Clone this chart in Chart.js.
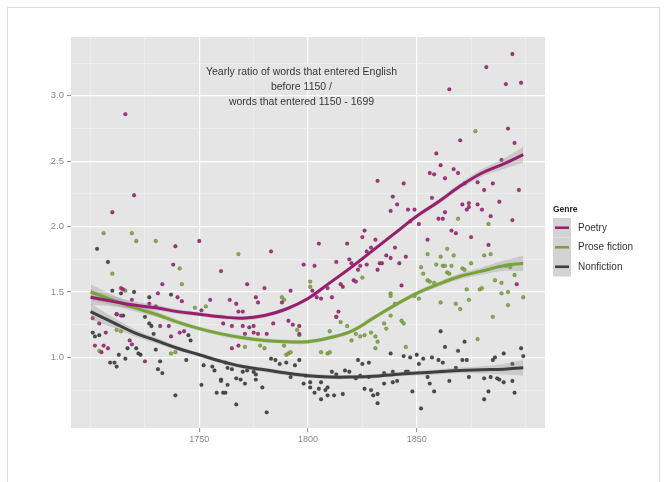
<!DOCTYPE html>
<html>
<head>
<meta charset="utf-8">
<title>Yearly ratio of words that entered English</title>
<script src="https://cdn.jsdelivr.net/npm/chart.js@4.4.1/dist/chart.umd.min.js"></script>
<style>
  html, body { margin: 0; padding: 0; background: #fff; overflow: hidden; }
  #wrap { position: relative; width: 667px; height: 482px; overflow: hidden; }
  #frame { position: absolute; left: 7px; top: 7px; width: 651px; height: 520px; border: 1px solid #dcdcdc; }
  canvas { position: absolute; left: 0; top: 0; }
</style>
</head>
<body>
<div id="wrap">
  <div id="frame"></div>
  <canvas id="ratioChart" width="667" height="482"></canvas>
</div>
<script>
// Data: [year, ratio]
const poetryPts = [
  [1701,1.30],[1702,1.09],[1704,1.26],[1705,1.04],[1706,1.09],[1707,1.19],[1708,1.07],[1710,2.11],
  [1712,1.33],[1714,1.32],[1714,1.53],[1715,1.52],[1716,2.86],[1718,1.13],[1719,1.10],[1719,1.44],
  [1720,2.24],[1725,0.97],[1727,1.41],[1730,1.39],[1731,1.49],[1732,1.24],[1733,1.56],[1736,1.24],
  [1737,1.16],[1738,1.71],[1739,1.85],[1740,1.46],[1741,1.19],[1742,1.43],[1743,1.20],[1750,1.89],
  [1751,1.36],[1755,1.44],[1760,1.66],[1761,1.26],[1764,1.44],[1765,1.24],[1765,1.07],[1767,1.41],
  [1768,1.35],[1768,1.09],[1770,1.35],[1770,1.24],[1771,1.18],[1772,1.56],[1773,1.23],[1775,1.24],
  [1775,1.19],[1776,1.46],[1777,1.42],[1777,1.18],[1780,1.53],[1781,1.18],[1783,1.81],[1784,1.26],
  [1788,1.42],[1791,1.28],[1792,1.51],[1793,1.25],[1796,1.24],[1796,1.18],[1798,1.71],[1802,1.51],
  [1803,1.70],[1804,1.46],[1805,1.87],[1806,1.45],[1809,1.53],[1811,1.46],[1813,1.73],[1813,1.31],
  [1814,1.35],[1815,1.56],[1816,1.54],[1818,1.87],[1819,1.75],[1820,1.72],[1821,1.59],[1822,1.58],
  [1823,1.67],[1824,1.70],[1825,1.92],[1826,1.97],[1827,1.81],[1827,1.71],[1829,1.84],[1831,1.90],
  [1832,2.35],[1832,1.67],[1833,1.72],[1834,1.72],[1836,1.78],[1838,1.76],[1838,2.12],[1839,2.23],
  [1840,1.84],[1841,2.17],[1842,1.72],[1843,1.55],[1844,2.33],[1845,1.77],[1846,2.13],[1847,2.04],
  [1849,2.13],[1851,2.02],[1855,1.90],[1856,2.41],[1857,2.22],[1858,2.40],[1859,2.56],[1860,2.06],
  [1861,2.47],[1862,2.06],[1863,2.37],[1863,2.11],[1865,3.05],[1866,1.97],[1867,2.44],[1868,1.95],
  [1869,2.41],[1870,2.66],[1871,2.17],[1872,2.33],[1873,2.13],[1874,2.18],[1874,2.15],[1875,1.92],
  [1878,2.34],[1878,2.17],[1880,2.13],[1881,2.28],[1882,3.22],[1883,1.86],[1884,2.08],[1885,2.33],
  [1888,2.19],[1889,2.51],[1891,3.09],[1892,2.75],[1894,3.32],[1894,2.05],[1895,2.64],[1896,1.56],
  [1897,2.28],[1898,3.10]
];

const prosePts = [
  [1704,1.05],[1706,1.95],[1710,1.64],[1712,1.21],[1714,1.20],[1716,1.51],[1719,1.95],[1721,1.89],
  [1730,1.89],[1737,1.03],[1739,1.04],[1741,1.68],[1742,1.56],[1748,1.38],[1753,1.39],[1768,1.79],
  [1771,1.08],[1778,1.09],[1780,1.07],[1788,1.46],[1789,1.44],[1789,1.09],[1790,1.02],[1791,1.03],
  [1792,1.04],[1795,1.21],[1796,1.17],[1801,1.58],[1801,1.54],[1806,1.04],[1809,1.03],[1810,1.04],
  [1810,1.20],[1813,1.31],[1815,1.27],[1818,1.24],[1820,1.13],[1822,1.18],[1824,1.16],[1825,1.61],
  [1826,1.17],[1829,1.19],[1831,1.16],[1831,1.07],[1832,1.12],[1835,1.26],[1836,1.22],[1838,1.32],
  [1838,1.49],[1838,1.47],[1840,1.41],[1843,1.28],[1844,1.26],[1845,1.08],[1849,1.47],[1851,1.45],
  [1852,1.69],[1853,1.64],[1855,1.79],[1855,1.59],[1856,1.58],[1858,1.57],[1859,1.71],[1861,1.77],
  [1861,1.42],[1862,1.70],[1863,1.70],[1864,1.83],[1864,1.65],[1865,1.64],[1866,1.70],[1867,1.78],
  [1868,1.41],[1869,2.06],[1870,1.37],[1871,1.68],[1872,1.67],[1873,1.52],[1874,1.44],[1875,1.72],
  [1877,2.73],[1878,1.14],[1879,1.52],[1880,1.53],[1881,1.78],[1883,2.02],[1884,1.79],[1885,1.31],
  [1886,1.59],[1889,1.57],[1889,1.49],[1891,1.70],[1892,1.50],[1892,1.40],[1893,1.69],[1895,1.63],
  [1899,1.46]
];

const nonfictionPts = [
  [1701,1.19],[1702,1.16],[1703,1.83],[1704,1.17],[1708,1.73],[1709,0.96],[1710,1.51],[1711,0.96],
  [1712,1.33],[1712,0.93],[1713,1.02],[1714,1.49],[1715,1.32],[1716,0.99],[1717,1.07],[1720,1.50],
  [1721,1.07],[1722,1.03],[1723,1.02],[1725,1.31],[1727,1.26],[1727,1.46],[1728,1.24],[1729,1.18],
  [1730,1.06],[1731,0.91],[1732,0.97],[1733,0.88],[1737,1.48],[1739,0.71],[1744,0.98],[1745,1.17],
  [1746,1.13],[1751,0.79],[1752,0.94],[1756,0.93],[1757,0.90],[1758,0.73],[1760,0.83],[1760,0.82],
  [1761,0.73],[1762,0.96],[1762,0.73],[1763,0.92],[1763,0.79],[1765,0.91],[1767,0.84],[1767,0.64],
  [1769,0.83],[1770,0.89],[1771,0.80],[1772,0.90],[1775,0.89],[1776,0.87],[1776,0.83],[1779,0.77],
  [1781,0.58],[1783,0.99],[1785,0.98],[1787,0.95],[1790,0.96],[1792,0.85],[1794,0.94],[1796,0.98],
  [1798,0.80],[1799,0.86],[1801,0.81],[1801,0.77],[1803,0.73],[1805,0.76],[1806,0.81],[1806,0.68],
  [1808,0.75],[1809,0.77],[1809,0.71],[1811,0.89],[1812,0.71],[1813,0.87],[1816,0.72],[1817,0.90],
  [1819,0.89],[1822,0.84],[1823,0.98],[1824,0.86],[1825,0.95],[1826,0.76],[1828,0.96],[1828,0.85],
  [1829,0.75],[1830,0.71],[1832,0.72],[1832,0.65],[1835,0.88],[1835,0.80],[1838,1.03],[1839,0.89],
  [1839,0.81],[1841,0.82],[1844,1.01],[1845,0.89],[1846,0.89],[1847,1.00],[1848,0.74],[1850,1.02],
  [1851,0.95],[1852,0.61],[1853,0.99],[1855,0.85],[1856,0.80],[1857,1.00],[1858,0.74],[1860,0.98],
  [1861,1.20],[1862,0.96],[1863,1.08],[1865,0.82],[1868,0.92],[1869,1.05],[1871,0.98],[1872,1.12],
  [1873,0.98],[1874,0.85],[1881,0.84],[1881,0.68],[1883,0.74],[1884,0.85],[1885,0.98],[1886,1.00],
  [1887,0.84],[1888,0.83],[1890,1.03],[1890,0.81],[1894,0.95],[1894,0.82],[1895,0.73],[1898,1.07],
  [1899,1.01]
];

// Smoothed trend lines and half width of the grey band
const smoothYears = [1700,1710,1720,1730,1740,1750,1760,1770,1780,1790,1800,1810,1820,1830,1840,1850,1860,1870,1880,1890,1899];
const poetrySmooth = [1.46,1.43,1.40,1.38,1.35,1.33,1.31,1.30,1.32,1.37,1.45,1.57,1.69,1.82,1.95,2.08,2.19,2.31,2.41,2.48,2.55];
const proseSmooth = [1.50,1.44,1.38,1.33,1.27,1.22,1.18,1.15,1.13,1.12,1.12,1.15,1.20,1.30,1.40,1.49,1.56,1.62,1.66,1.70,1.72];
const nonfictionSmooth = [1.35,1.27,1.19,1.13,1.07,1.02,0.97,0.93,0.905,0.88,0.86,0.85,0.85,0.855,0.87,0.88,0.89,0.90,0.905,0.91,0.92];
const bandHalf = [0.06,0.04,0.028,0.022,0.018,0.016,0.016,0.016,0.016,0.016,0.016,0.016,0.016,0.016,0.016,0.018,0.02,0.022,0.028,0.04,0.06];

// Axis ticks
const xMajor = [1750, 1800, 1850];
const xMinor = [1700, 1725, 1775, 1825, 1875, 1900];
const yMajor = [1.0, 1.5, 2.0, 2.5, 3.0];
const yMinor = [0.75, 1.25, 1.75, 2.25, 2.75, 3.25];

const genres = ['Poetry', 'Prose fiction', 'Nonfiction'];
const titleLines = ['Yearly ratio of words that entered English', 'before 1150 /', 'words that entered 1150 - 1699'];

const colors = { Poetry: '#981e6e', 'Prose fiction': '#78a336', Nonfiction: '#3f3f3f' };
const pointColors = { Poetry: '#a8307f', 'Prose fiction': '#86ad48', Nonfiction: '#4a4a4a' };
const FONT = "'Liberation Sans', Arial, sans-serif";

const toXY = pts => pts.map(p => ({ x: p[0], y: p[1] }));
const curve = vals => smoothYears.map((yr, i) => ({ x: yr, y: vals[i] }));
const band = (vals, sign) => smoothYears.map((yr, i) => ({ x: yr, y: vals[i] + sign * bandHalf[i] }));

function genreSets(name, pts, smooth) {
    const c = colors[name];
    return [
        { type: 'scatter', label: name, data: toXY(pts), order: 3,
          pointRadius: 1.9, backgroundColor: pointColors[name], borderColor: 'rgba(30,30,30,0.3)', borderWidth: 0.6 },
        { type: 'line', label: name + ' hi', data: band(smooth, 1), order: 2,
          borderWidth: 0, pointRadius: 0, fill: '+1', backgroundColor: 'rgba(150,150,150,0.35)', tension: 0.4 },
        { type: 'line', label: name + ' lo', data: band(smooth, -1), order: 2,
          borderWidth: 0, pointRadius: 0, fill: false, tension: 0.4 },
        { type: 'line', label: name + ' fit', data: curve(smooth), order: 1,
          borderColor: c, borderWidth: 3, pointRadius: 0, fill: false, tension: 0.4 }
    ];
}

// Grey panel, title text and legend
const ggPanel = {
    id: 'ggPanel',
    beforeDraw(chart) {
        const { ctx, chartArea: a } = chart;
        ctx.save();
        ctx.fillStyle = '#e5e5e5';
        ctx.fillRect(a.left, a.top, a.right - a.left, a.bottom - a.top);
        ctx.restore();
    },
    afterDraw(chart) {
        const { ctx, chartArea: a } = chart;
        const cx = chart.scales.x.getPixelForValue(1797);
        ctx.save();
        ctx.fillStyle = '#383838';
        ctx.font = '10.5px ' + FONT;
        ctx.textAlign = 'center';
        ctx.textBaseline = 'middle';
        titleLines.forEach((t, i) => ctx.fillText(t, cx, a.top + 35 + i * 15.3));

        // legend
        const lx = 553, ly = 218, rowH = 19.5;
        ctx.textAlign = 'left';
        ctx.fillStyle = '#222';
        ctx.font = 'bold 8.5px ' + FONT;
        ctx.fillText('Genre', lx, 210);
        genres.forEach((g, i) => {
            const y = ly + i * rowH;
            ctx.fillStyle = '#d3d3d3';
            ctx.fillRect(lx, y, 18, rowH);
            ctx.strokeStyle = colors[g];
            ctx.lineWidth = 2.6;
            ctx.beginPath();
            ctx.moveTo(lx + 2, y + rowH / 2);
            ctx.lineTo(lx + 16, y + rowH / 2);
            ctx.stroke();
            ctx.fillStyle = '#333';
            ctx.font = '10px ' + FONT;
            ctx.fillText(g, lx + 25, y + rowH / 2);
        });
        ctx.restore();
    }
};

const ctx = document.getElementById('ratioChart').getContext('2d');

const ratioChart = new Chart(ctx, {
    type: 'scatter',
    data: {
        datasets: [
            ...genreSets('Poetry', poetryPts, poetrySmooth),
            ...genreSets('Prose fiction', prosePts, proseSmooth),
            ...genreSets('Nonfiction', nonfictionPts, nonfictionSmooth)
        ]
    },
    options: {
        responsive: false,
        animation: false,
        events: [],
        layout: { padding: { left: 0, top: 37, right: 122, bottom: 0 } },
        plugins: {
            legend: { display: false },
            tooltip: { enabled: false }
        },
        scales: {
            x: {
                type: 'linear',
                min: 1691,
                max: 1909,
                afterFit: s => { s.height = 54; },
                afterBuildTicks: s => { s.ticks = [...xMinor, ...xMajor].sort((a, b) => a - b).map(v => ({ value: v })); },
                border: { display: false },
                grid: {
                    color: c => xMajor.includes(c.tick.value) ? '#ffffff' : '#f2f2f2',
                    lineWidth: c => xMajor.includes(c.tick.value) ? 1.2 : 0.6,
                    tickColor: c => xMajor.includes(c.tick.value) ? '#8a8a8a' : 'rgba(0,0,0,0)',
                    tickLength: 4,
                    tickWidth: 1
                },
                ticks: {
                    padding: 2,
                    color: '#8a8a8a',
                    font: { family: FONT, size: 9 },
                    maxRotation: 0,
                    autoSkip: false,
                    callback: v => xMajor.includes(v) ? String(v) : ''
                }
            },
            y: {
                min: 0.46,
                max: 3.45,
                afterFit: s => { s.width = 71; },
                afterBuildTicks: s => { s.ticks = [...yMinor, ...yMajor].sort((a, b) => a - b).map(v => ({ value: v })); },
                border: { display: false },
                grid: {
                    color: c => yMajor.includes(c.tick.value) ? '#ffffff' : '#f2f2f2',
                    lineWidth: c => yMajor.includes(c.tick.value) ? 1.2 : 0.6,
                    tickColor: c => yMajor.includes(c.tick.value) ? '#8a8a8a' : 'rgba(0,0,0,0)',
                    tickLength: 4,
                    tickWidth: 1
                },
                ticks: {
                    padding: 3,
                    color: '#8a8a8a',
                    font: { family: FONT, size: 9.5 },
                    autoSkip: false,
                    callback: v => yMajor.includes(v) ? v.toFixed(1) : ''
                }
            }
        }
    },
    plugins: [ggPanel]
});
</script>
</body>
</html>
